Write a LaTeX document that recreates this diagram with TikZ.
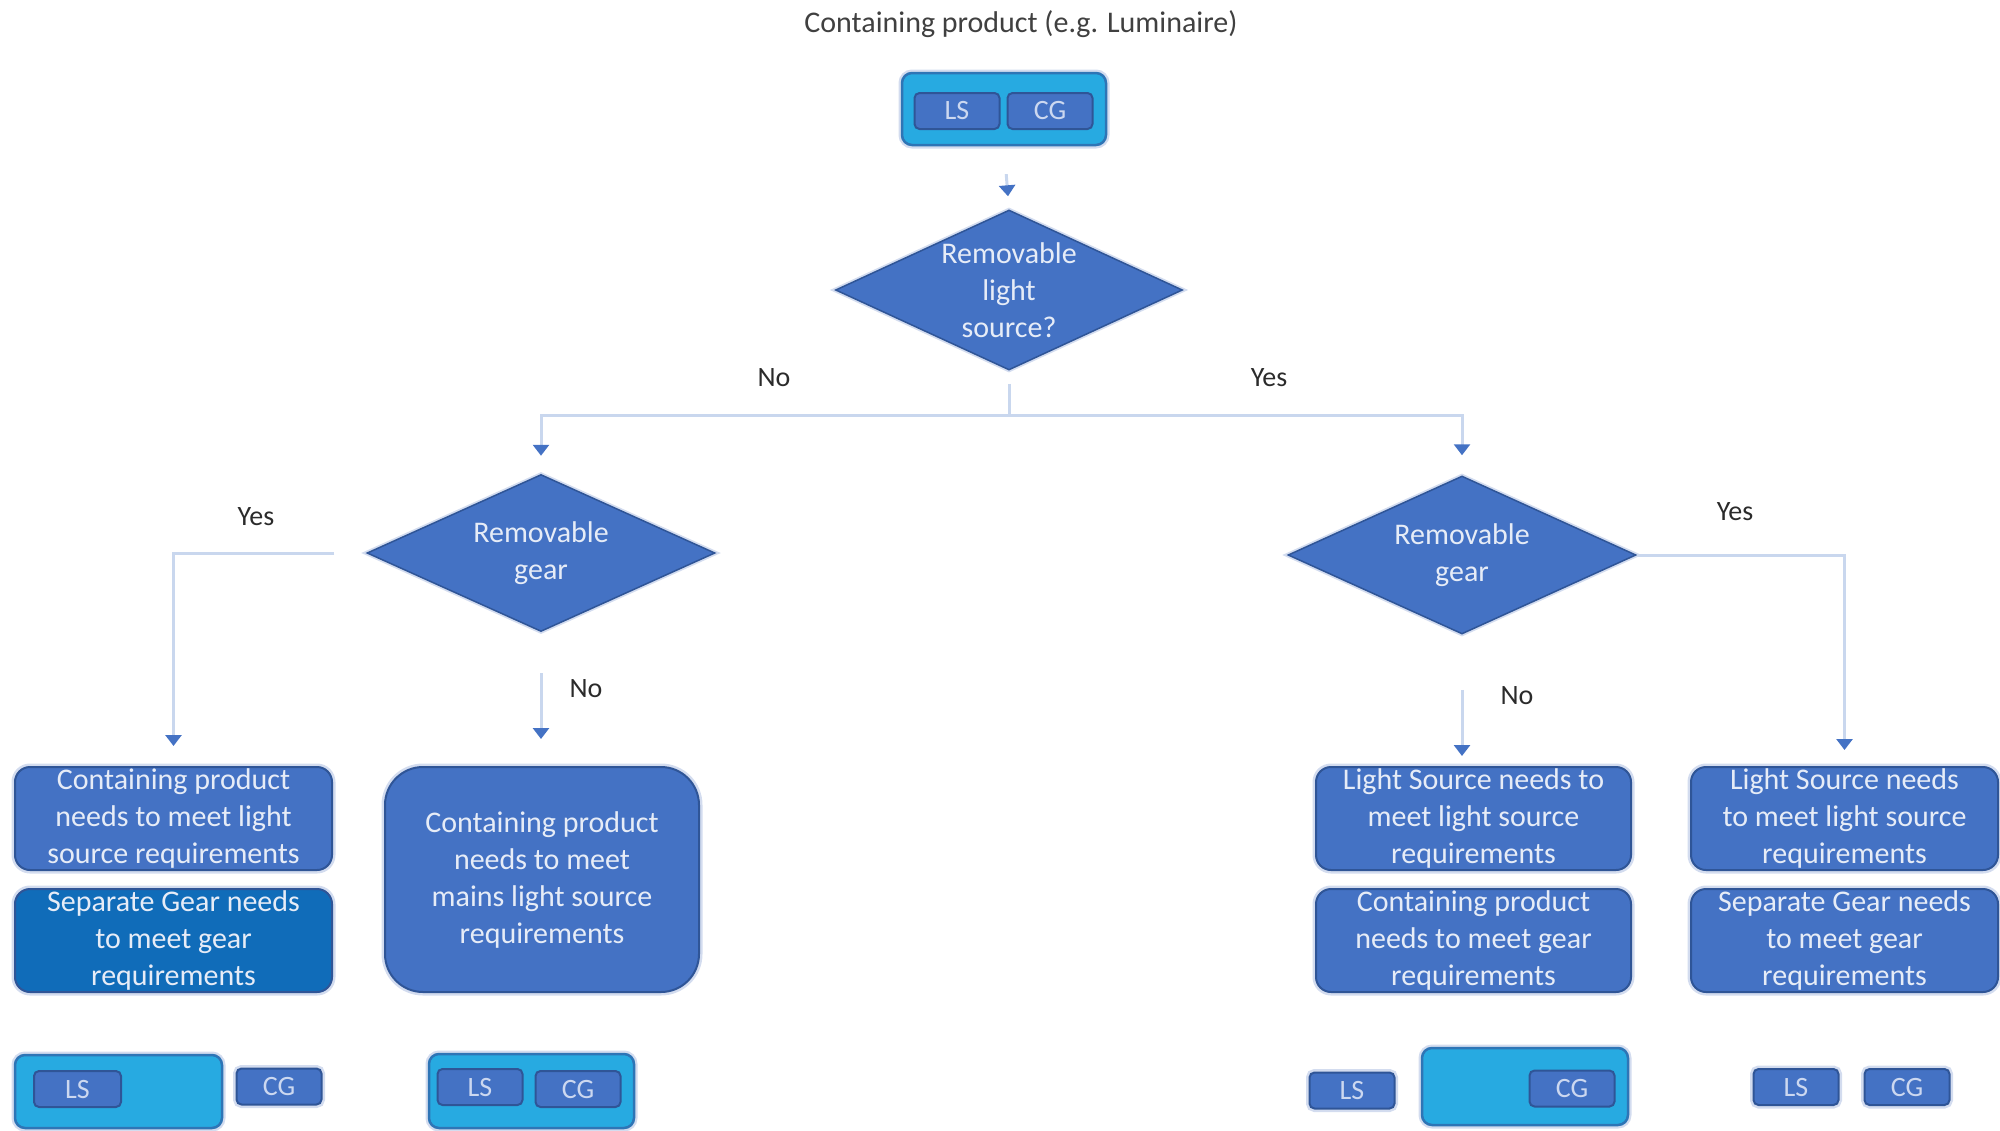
\documentclass[tikz,border=0pt]{standalone}
\usepackage{fontspec}
\setmainfont{Carlito}
\usetikzlibrary{shapes.geometric,arrows.meta}
\definecolor{mblue}{HTML}{4472C4}
\definecolor{dblue}{HTML}{2F5597}
\definecolor{sblue}{HTML}{106CB9}
\definecolor{cyanf}{HTML}{27AAE1}
\definecolor{cyanb}{HTML}{2E75B6}
\definecolor{linec}{HTML}{C9D7EE}
\definecolor{haloc}{HTML}{D3DCEF}
\definecolor{txtl}{HTML}{E6ECF7}
\definecolor{chipt}{HTML}{CCD8F0}
\definecolor{lbl}{HTML}{2B2B2B}
\definecolor{ttl}{HTML}{404040}
\begin{document}
\begin{tikzpicture}[x=1pt,y=-1pt,
  every node/.style={inner sep=0pt},
  fnt/.style={font=\fontsize{30}{37}\selectfont},
  req/.style={fnt, rectangle, rounded corners=15pt, fill=mblue, draw=dblue, line width=2pt, text=txtl, align=center, preaction={draw=haloc, line width=7pt}},
  dia/.style={diamond, fill=mblue, draw=dblue, line width=1.5pt, preaction={draw=haloc, line width=5pt}},
  dtext/.style={fnt, text=txtl, align=center},
  lab/.style={font=\fontsize{28}{30}\selectfont, text=lbl},
  cont/.style={rectangle, rounded corners=10pt, fill=cyanf, draw=cyanb, line width=2.5pt, preaction={draw=haloc, line width=7pt}},
  chip/.style={rectangle, rounded corners=5pt, fill=mblue, draw=dblue, line width=2pt, text=chipt, font=\fontsize{28}{30}\selectfont, minimum width=85pt, minimum height=36pt},
  chiph/.style={chip, preaction={draw=haloc, line width=7pt}},
  conn/.style={draw=linec, line width=3pt, -{Triangle[length=11pt, width=16pt, color=mblue]}},
  connp/.style={draw=linec, line width=3pt},
]
\useasboundingbox (0,0) rectangle (2000,1130);

% title
\node[fnt, text=ttl] (title) at (1021,24) {Containing product (e.g. Luminaire)};

% top container
\node[cont, minimum width=204pt, minimum height=72pt] (top) at (1004,109) {};
\node[chip] (topls) at (957,111) {LS};
\node[chip] (topcg) at (1050,111) {CG};

% diamonds
\node[dia, minimum width=347pt, minimum height=160pt] (d1) at (1009,290) {};
\node[dtext] (d1t) at (d1) {Removable\\light\\source?};
\node[dia, minimum width=348pt, minimum height=157pt] (d2) at (541,553) {};
\node[dtext] (d2t) at (d2) {Removable\\gear};
\node[dia, minimum width=348pt, minimum height=158pt] (d3) at (1462,555) {};
\node[dtext] (d3t) at (d3) {Removable\\gear};

% requirement boxes
\node[req, minimum width=317pt, minimum height=103pt] (bA) at (173.5,818.5) {Containing product\\needs to meet light\\source requirements};
\node[req, fill=sblue, minimum width=317pt, minimum height=103pt] (bB) at (173.5,940.5) {Separate Gear needs\\to meet gear\\requirements};
\node[req, rounded corners=38pt, minimum width=314pt, minimum height=225pt] (bC) at (542,879.5) {Containing product\\needs to meet\\mains light source\\requirements};
\node[req, minimum width=315pt, minimum height=103pt] (bD) at (1473.5,818.5) {Light Source needs to\\meet light source\\requirements};
\node[req, minimum width=315pt, minimum height=103pt] (bE) at (1473.5,940.5) {Containing product\\needs to meet gear\\requirements};
\node[req, minimum width=307pt, minimum height=103pt] (bF) at (1844.5,818.5) {Light Source needs\\to meet light source\\requirements};
\node[req, minimum width=307pt, minimum height=103pt] (bG) at (1844.5,940.5) {Separate Gear needs\\to meet gear\\requirements};

% bottom icons
\node[cont, minimum width=207pt, minimum height=73pt] (c1) at (118.5,1091.5) {};
\node[chip, minimum width=87pt] (c1ls) at (77.5,1089) {LS};
\node[chiph] (c1cg) at (279,1086.5) {CG};

\node[cont, minimum width=205pt, minimum height=74pt] (c2) at (531.5,1091) {};
\node[chip] (c2ls) at (480,1087) {LS};
\node[chip] (c2cg) at (578,1089) {CG};

\node[chiph] (c3ls) at (1352,1090.5) {LS};
\node[cont, minimum width=206pt, minimum height=77pt] (c3) at (1525,1086.5) {};
\node[chip] (c3cg) at (1572,1088.5) {CG};

\node[chiph] (c4ls) at (1796,1087) {LS};
\node[chiph] (c4cg) at (1907,1087) {CG};

% connectors
\coordinate (split) at (1009,415);
\draw[conn, shorten <=28pt, shorten >=13pt] (top.south) -- (d1.north);
\draw[connp, shorten <=13pt] (d1.south) -- (split);
\draw[conn, shorten >=18pt] (split) -| (d2.north);
\draw[conn, shorten >=20pt] (split) -| (d3.north);
\draw[conn, shorten <=32pt, shorten >=20pt] (d2.west) -| (bA.north);
\draw[conn, shorten >=16pt] (d3.east) -| (bF.north);
\draw[conn, shorten <=41pt, shorten >=27pt] (d2.south) -- (d2.south |- bC.north);
\draw[conn, shorten <=55pt, shorten >=10pt] (d3.south) -- (d3.south |- bD.north);

% labels
\node[lab] (lno1) at (774,378) {No};
\node[lab] (lyes1) at (1269,378) {Yes};
\node[lab] (lyes2) at (256,517) {Yes};
\node[lab] (lno2) at (586,689) {No};
\node[lab] (lyes3) at (1735,512) {Yes};
\node[lab] (lno3) at (1517,696) {No};
\end{tikzpicture}
\end{document}
